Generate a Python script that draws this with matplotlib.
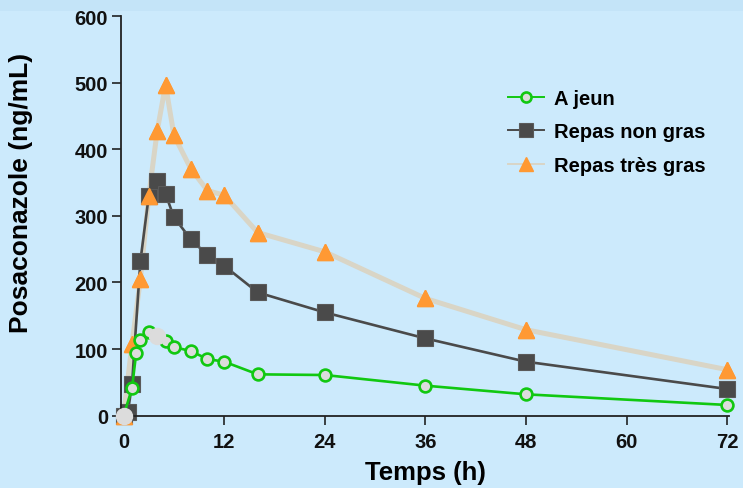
import numpy as np
import matplotlib
matplotlib.use("Agg")
import matplotlib.pyplot as plt
from matplotlib.patches import Rectangle

plt.rcParams['font.family'] = ['Liberation Sans', 'DejaVu Sans']

# time points (h) and concentrations (ng/mL)
t_jeun = [0, 1, 1.5, 2, 3, 4, 5, 6, 8, 10, 12, 16, 24, 36, 48, 72]
c_jeun = [0, 41, 94, 113, 125, 120, 112, 103, 97, 85, 81, 62, 61, 45, 32, 16]

t_non_gras = [0, 0.5, 1, 2, 3, 4, 5, 6, 8, 10, 12, 16, 24, 36, 48, 72]
c_non_gras = [0, 5, 47, 232, 330, 353, 333, 298, 265, 241, 225, 185, 155, 116, 81, 40]

t_tres_gras = [0, 1, 2, 3, 4, 5, 6, 8, 10, 12, 16, 24, 36, 48, 72]
c_tres_gras = [0, 108, 205, 330, 427, 497, 421, 371, 338, 331, 275, 246, 176, 129, 69]

x_ticks = [0, 12, 24, 36, 48, 60, 72]
y_ticks = [0, 100, 200, 300, 400, 500, 600]

BG = '#cceafc'
GREEN = '#11c811'
DARK = '#4a4a4a'
ORANGE = '#ff9933'
BEIGE = '#d9d5c6'

fig = plt.figure(figsize=(7.43, 4.89), dpi=100, facecolor=BG)
# slightly darker band at the very top
fig.patches.append(Rectangle((0, 1 - 12 / 489), 1, 12 / 489, transform=fig.transFigure,
                             facecolor='#c4e4f8', edgecolor='none', zorder=0))

ax = fig.add_axes([0.163, 0.148, 0.818, 0.817])
ax.set_facecolor(BG)

# très gras: line + markers (for legend), markers redrawn on top
ax.plot(t_tres_gras, c_tres_gras, '-^', color=BEIGE, lw=3.6, marker='^', ms=12,
        mfc=ORANGE, mec=ORANGE, label='Repas très gras', zorder=1, clip_on=False)
ax.plot(t_non_gras, c_non_gras, '-s', color=DARK, lw=1.9, ms=11.5,
        mfc=DARK, mec='#5a5a5a', mew=0.8, label='Repas non gras', zorder=2, clip_on=False)
ax.plot(t_tres_gras, c_tres_gras, '^', ms=12, mfc=ORANGE, mec=ORANGE, zorder=3, clip_on=False)
ax.plot(t_jeun, c_jeun, '-o', color=GREEN, lw=1.9, ms=8.5, mfc='#dcdcdc', mec=GREEN,
        mew=1.9, label='A jeun', zorder=4, clip_on=False)
# the two blurred circles without rim in the original
tj = np.array(t_jeun)
cj = np.array(c_jeun)
ax.plot(tj[[0, 5]], cj[[0, 5]], 'o', ms=11.5, mfc='#dcdcdc', mec='#dcdcdc', zorder=5, clip_on=False)

ax.set_xlim(-0.3, 72.2)
ax.set_ylim(0, 600)
ax.set_xticks(x_ticks)
ax.set_yticks(y_ticks)

for s in ['top', 'right']:
    ax.spines[s].set_visible(False)
for s in ['left', 'bottom']:
    ax.spines[s].set_linewidth(1.3)
    ax.spines[s].set_color('#222222')

ax.tick_params(axis='both', direction='out', length=6.5, width=1.1, colors='#111111',
               labelsize=14.5, pad=3)
ax.tick_params(axis='x', pad=5)
for lab in ax.get_xticklabels() + ax.get_yticklabels():
    lab.set_fontweight('bold')

ax.set_xlabel('Temps (h)', fontsize=18.5, fontweight='bold', labelpad=7)
ax.set_ylabel('Posaconazole (ng/mL)', fontsize=19, fontweight='bold')
ax.yaxis.set_label_coords(-0.145, 0.56)

h, l = ax.get_legend_handles_labels()
order = [l.index('A jeun'), l.index('Repas non gras'), l.index('Repas très gras')]
leg = ax.legend([h[i] for i in order], [l[i] for i in order], loc='upper left',
                bbox_to_anchor=(508 / 743, 1 - 90 / 489), bbox_transform=fig.transFigure,
                frameon=False, fontsize=14.5, borderpad=0, borderaxespad=0,
                handlelength=1.8, handletextpad=0.5, labelspacing=0.72, markerscale=0.85)
for txt in leg.get_texts():
    txt.set_fontweight('bold')
for ln in leg.get_lines():
    ln.set_linewidth(1.4)

fig.savefig('out.png', dpi=100, facecolor=BG)
